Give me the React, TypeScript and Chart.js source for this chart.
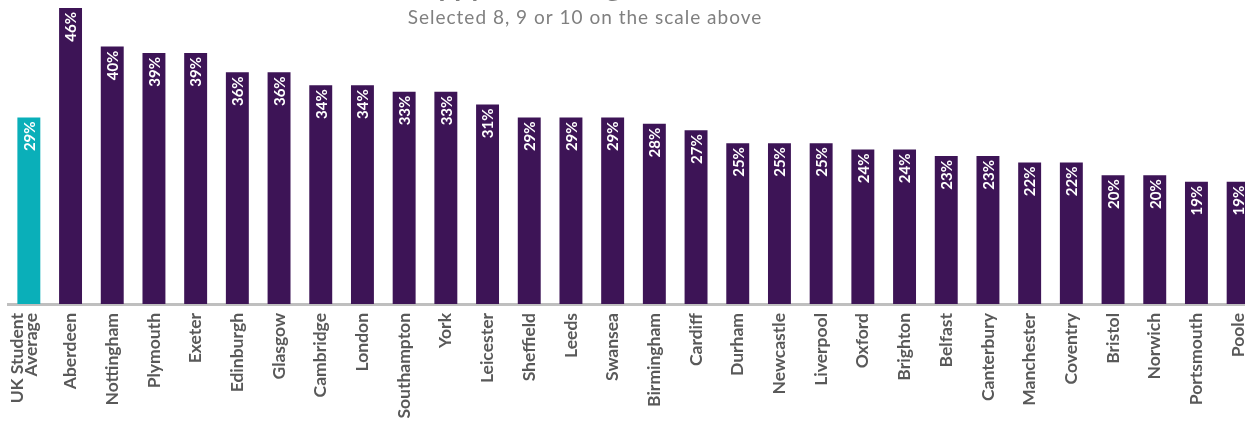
import React, { useEffect, useRef } from 'react';
import { Chart, registerables } from 'chart.js';

Chart.register(...registerables);

const categories: (string | string[])[] = [
  ['UK Student', 'Average'], 'Aberdeen', 'Nottingham', 'Plymouth', 'Exeter', 'Edinburgh', 'Glasgow',
  'Cambridge', 'London', 'Southampton', 'York', 'Leicester', 'Sheffield', 'Leeds', 'Swansea',
  'Birmingham', 'Cardiff', 'Durham', 'Newcastle', 'Liverpool', 'Oxford', 'Brighton', 'Belfast',
  'Canterbury', 'Manchester', 'Coventry', 'Bristol', 'Norwich', 'Portsmouth', 'Poole',
];
const values: number[] = [
  29, 46, 40, 39, 39, 36, 36, 34, 34, 33, 33, 31, 29, 29, 29,
  28, 27, 25, 25, 25, 24, 24, 23, 23, 22, 22, 20, 20, 19, 19,
];
const titleText = 'Happy with living here';
const subtitleText = 'Selected 8, 9 or 10 on the scale above';

const PURPLE = '#3D1456';
const TEAL = '#0AAFB9';

const App: React.FC = () => {
  const ref = useRef<HTMLCanvasElement | null>(null);

  useEffect(() => {
    if (!ref.current) return;
    const shiftPlugin = {
      id: 'shiftFirstLabel',
      beforeDraw(chart: any) {
        const scale = chart.scales.x;
        const items = scale.getLabelItems(chart.chartArea);
        const first = items && items[0];
        if (first && !first.__shifted) {
          const opts = first.options || first;
          if (opts.translation) {
            opts.translation = [opts.translation[0] - 11, opts.translation[1]];
          }
          first.__shifted = true;
        }
      },
    };
    const labelPlugin = {
      id: 'valueLabels',
      afterDatasetsDraw(chart: any) {
        const ctx = chart.ctx;
        const meta = chart.getDatasetMeta(0);
        meta.data.forEach((bar: any, i: number) => {
          ctx.save();
          ctx.translate(bar.x, bar.y + 4);
          ctx.rotate(-Math.PI / 2);
          ctx.textAlign = 'right';
          ctx.textBaseline = 'middle';
          ctx.fillStyle = '#FFFFFF';
          ctx.font = 'bold 15px Lato';
          ctx.fillText(values[i] + '%', 0, 1);
          ctx.restore();
        });
      },
    };
    const titlePlugin = {
      id: 'titles',
      afterDraw(chart: any) {
        const ctx = chart.ctx;
        ctx.save();
        ctx.textBaseline = 'alphabetic';
        ctx.textAlign = 'left';
        ctx.fillStyle = '#7F7F7F';
        ctx.font = 'bold 28px Lato';
        ctx.fillText(titleText, 403, -4);
        ctx.textAlign = 'center';
        ctx.fillStyle = '#808080';
        ctx.font = '19px Lato';
        (ctx as any).letterSpacing = '1px';
        ctx.textBaseline = 'middle';
        ctx.fillText(subtitleText, 585, 18);
        ctx.restore();
      },
    };

    const chart = new Chart(ref.current, {
      type: 'bar',
      data: {
        labels: categories,
        datasets: [
          {
            data: values,
            backgroundColor: values.map((_, i) => (i === 0 ? TEAL : PURPLE)),
            barPercentage: 0.55,
            categoryPercentage: 1,
            borderWidth: 0,
          },
        ],
      },
      options: {
        animation: false,
        responsive: false,
        maintainAspectRatio: false,
        devicePixelRatio: 1,
        layout: { padding: { top: 8, left: 8, right: 0, bottom: 0 } },
        plugins: {
          legend: { display: false },
          title: { display: false },
          tooltip: { enabled: false },
        },
        scales: {
          x: {
            grid: { display: false },
            border: { display: true, color: '#BFBFBF', width: 3 },
            ticks: {
              minRotation: 90,
              maxRotation: 90,
              autoSkip: false,
              padding: 1,
              color: '#595959',
              font: { family: 'Lato', weight: 'bold', size: 17.5, lineHeight: '14px' },
            },
            afterFit(scale: any) {
              scale.height = 117;
              scale.paddingLeft = 0;
              scale.paddingRight = 0;
            },
          },
          y: {
            display: false,
            min: 0,
            max: 46,
          },
        },
      },
      plugins: [shiftPlugin, labelPlugin, titlePlugin],
    });
    return () => chart.destroy();
  }, []);

  return (
    <div style={{ position: 'absolute', left: 0, top: 0, width: 1245, height: 421, overflow: 'hidden', background: '#fff' }}>
      <canvas ref={ref} width={1259} height={421} style={{ position: 'absolute', left: 0, top: 0, display: 'block' }} />
    </div>
  );
};

export default App;
